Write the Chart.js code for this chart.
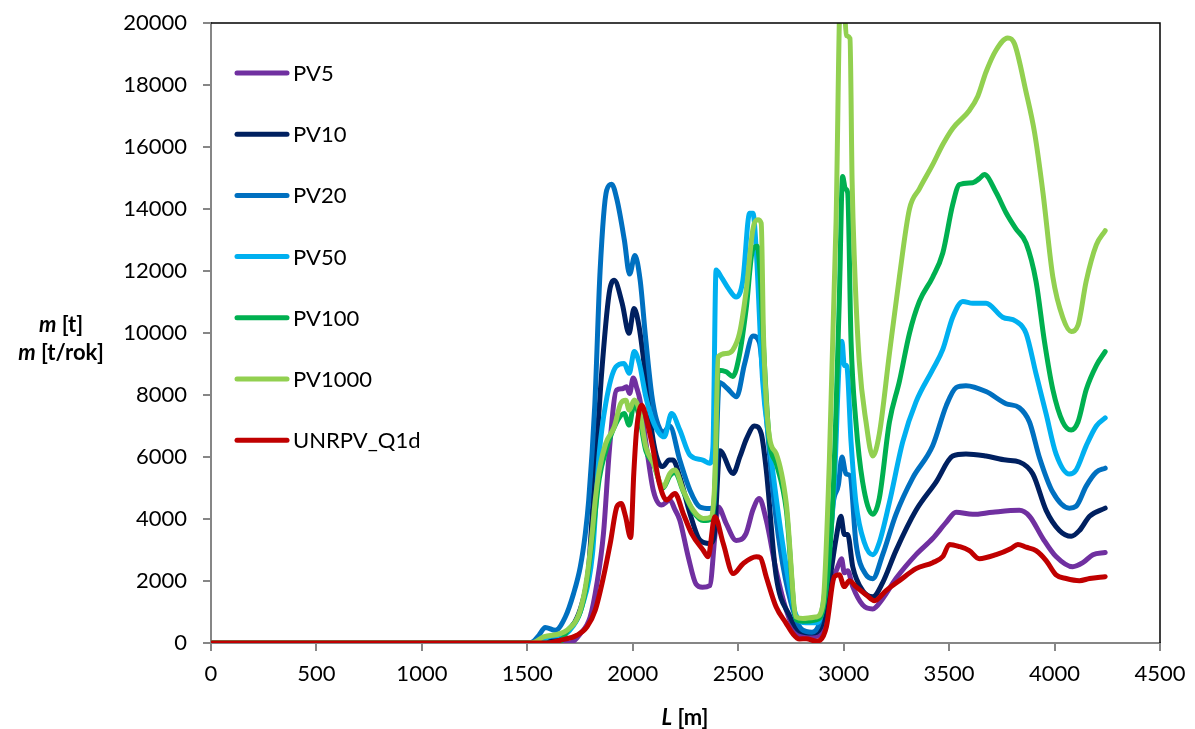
<!DOCTYPE html>
<html>
<head>
<meta charset="utf-8">
<script src="https://cdn.jsdelivr.net/npm/chart.js@4.4.1/dist/chart.umd.min.js"></script>
<style>
  body { margin: 0; background: #fff; }
  #wrap { position: relative; width: 1195px; height: 729px; font-family: Lato, "Open Sans", sans-serif; }
  .title { position: absolute; font-size: 22px; font-weight: bold; line-height: 26px; color: #000; text-align: center; white-space: nowrap; }
</style>
</head>
<body>
<div id="wrap">
  <canvas id="chart" width="1195" height="729"></canvas>
  <div class="title" style="left:1px; top:311px; width:120px;"><i>m</i> [t]</div>
  <div class="title" style="left:1px; top:339px; width:120px;"><i>m</i> [t/rok]</div>
  <div class="title" style="left:625px; top:704px; width:120px;"><i>L</i> [m]</div>
</div>
<script>
// ===== DATA (L in m, m in t) =====
const seriesNames = ["PV5", "PV10", "PV20", "PV50", "PV100", "PV1000", "UNRPV_Q1d"];
const seriesColors = ["#7030A0", "#002060", "#0070C0", "#00B0F0", "#00B050", "#92D050", "#C00000"];
const xTicks = [0, 500, 1000, 1500, 2000, 2500, 3000, 3500, 4000, 4500];
const yTicks = [0, 2000, 4000, 6000, 8000, 10000, 12000, 14000, 16000, 18000, 20000];

const pv5L = [0, 1700, 1751, 1798, 1830, 1861, 1890, 1923, 1950, 1970, 1985, 2002, 2020, 2034, 2065, 2097, 2136, 2176, 2200, 2223, 2263, 2300, 2330, 2365, 2390, 2405, 2443, 2490, 2537, 2570, 2600, 2633, 2680, 2728, 2775, 2839, 2885, 2932, 2972, 2990, 3003, 3019, 3043, 3090, 3138, 3185, 3248, 3343, 3422, 3486, 3533, 3612, 3707, 3833, 3881, 3945, 4007, 4086, 4134, 4182, 4240];
const pv5M = [0, 0, 300, 840, 1920, 3530, 6300, 8160, 8200, 8270, 8050, 8550, 8200, 7840, 6330, 4930, 4450, 4610, 4300, 3960, 2780, 1900, 1800, 1850, 3500, 4390, 3850, 3310, 3530, 4300, 4660, 3960, 2340, 1060, 360, 190, 260, 1690, 2460, 2720, 2270, 2330, 1820, 1230, 1100, 1430, 2080, 2850, 3370, 3890, 4220, 4150, 4220, 4280, 4090, 3370, 2790, 2460, 2590, 2850, 2920];

const pv10L = [0, 1560, 1610, 1680, 1759, 1791, 1812, 1850, 1888, 1912, 1950, 1982, 2006, 2030, 2061, 2094, 2118, 2141, 2173, 2190, 2223, 2271, 2318, 2365, 2385, 2413, 2476, 2508, 2540, 2577, 2609, 2633, 2679, 2742, 2790, 2853, 2892, 2932, 2964, 2987, 3003, 3019, 3043, 3090, 3138, 3185, 3248, 3343, 3438, 3517, 3580, 3675, 3770, 3833, 3897, 3960, 4023, 4079, 4118, 4166, 4240];
const pv10M = [0, 0, 100, 300, 1270, 2450, 4610, 8500, 11280, 11700, 10950, 9990, 10790, 10200, 8590, 6660, 5900, 5690, 5900, 5900, 5360, 4180, 3320, 3210, 3400, 6200, 5470, 6010, 6600, 7000, 6760, 5580, 2200, 900, 390, 320, 520, 1950, 3370, 4090, 3500, 3500, 2460, 1690, 1490, 1950, 2980, 4280, 5190, 6030, 6100, 6030, 5900, 5840, 5450, 4280, 3630, 3440, 3630, 4090, 4350];

const pv20L = [0, 1505, 1530, 1555, 1585, 1633, 1680, 1719, 1751, 1775, 1791, 1820, 1845, 1876, 1900, 1925, 1960, 1985, 2010, 2035, 2060, 2090, 2113, 2145, 2175, 2223, 2271, 2318, 2365, 2385, 2410, 2450, 2492, 2530, 2570, 2600, 2630, 2660, 2700, 2750, 2800, 2850, 2885, 2920, 2950, 2975, 2992, 3011, 3030, 3058, 3106, 3138, 3185, 3248, 3327, 3422, 3486, 3533, 3580, 3675, 3770, 3833, 3881, 3929, 3992, 4070, 4102, 4150, 4198, 4240];
const pv20M = [0, 0, 60, 250, 500, 410, 840, 1590, 2450, 3530, 4610, 7700, 12000, 14600, 14800, 14300, 13000, 11900, 12500, 11700, 9900, 8000, 7190, 6800, 7000, 5900, 4930, 4390, 4340, 4450, 8400, 8200, 7940, 9000, 9900, 9700, 7600, 5200, 3000, 1300, 450, 350, 650, 2000, 4500, 5100, 6000, 5450, 5400, 3240, 2200, 2075, 2850, 4150, 5320, 6360, 7650, 8240, 8300, 8110, 7720, 7590, 7130, 5970, 4860, 4350, 4410, 5060, 5510, 5640];

const pv50L = [0, 1550, 1600, 1650, 1700, 1760, 1809, 1841, 1872, 1920, 1959, 1983, 2007, 2031, 2062, 2094, 2126, 2149, 2184, 2223, 2271, 2332, 2365, 2380, 2395, 2419, 2459, 2490, 2522, 2554, 2570, 2584, 2616, 2647, 2710, 2774, 2821, 2877, 2916, 2956, 2979, 2992, 3003, 3014, 3035, 3058, 3098, 3138, 3169, 3217, 3280, 3343, 3422, 3470, 3517, 3565, 3612, 3675, 3754, 3817, 3865, 3912, 3960, 4007, 4070, 4102, 4150, 4198, 4240];
const pv50M = [0, 0, 200, 250, 400, 1200, 2880, 6110, 7730, 8910, 9020, 8700, 9400, 9020, 7940, 7190, 6760, 6650, 7400, 6870, 6060, 5900, 5800, 6300, 12030, 11810, 11380, 11160, 11700, 13860, 13860, 12840, 8430, 6490, 3240, 900, 650, 650, 1950, 5190, 9080, 9730, 8950, 8950, 6490, 4540, 3240, 2850, 3240, 4540, 6490, 7780, 8820, 9470, 10510, 11020, 10960, 10960, 10510, 10380, 9990, 8690, 7390, 6100, 5450, 5580, 6360, 7000, 7260];

const pv100L = [0, 1650, 1688, 1751, 1783, 1807, 1841, 1872, 1920, 1959, 1983, 2007, 2031, 2062, 2097, 2144, 2176, 2200, 2239, 2286, 2334, 2373, 2389, 2405, 2443, 2474, 2506, 2538, 2569, 2590, 2605, 2622, 2648, 2680, 2728, 2775, 2807, 2870, 2902, 2948, 2979, 2995, 3008, 3019, 3035, 3058, 3090, 3138, 3169, 3217, 3264, 3312, 3359, 3422, 3470, 3517, 3549, 3612, 3643, 3667, 3723, 3770, 3817, 3865, 3912, 3952, 3992, 4039, 4079, 4111, 4150, 4198, 4240];
const pv100M = [0, 0, 380, 1000, 2000, 3300, 5300, 6200, 7080, 7400, 7030, 7730, 7300, 6200, 5800, 5000, 5400, 5500, 4900, 4250, 3950, 4000, 5000, 8800, 8750, 8600, 9300, 10800, 12700, 12800, 11800, 9300, 6500, 5800, 4300, 750, 700, 750, 1100, 4540, 11000, 15050, 14650, 14530, 9730, 7130, 5190, 4150, 4670, 7130, 8430, 9990, 11020, 11800, 12580, 14140, 14790, 14850, 14980, 15110, 14530, 13880, 13360, 12900, 11670, 9730, 8170, 7130, 6870, 7130, 8170, 8950, 9400];

const pv1000L = [0, 1520, 1577, 1688, 1751, 1783, 1807, 1822, 1841, 1872, 1912, 1943, 1967, 1983, 2007, 2031, 2062, 2097, 2144, 2176, 2200, 2239, 2286, 2334, 2373, 2389, 2405, 2443, 2474, 2506, 2538, 2569, 2593, 2609, 2620, 2648, 2680, 2728, 2775, 2807, 2870, 2902, 2932, 2964, 2985, 3000, 3012, 3030, 3040, 3051, 3074, 3106, 3138, 3169, 3217, 3264, 3312, 3359, 3422, 3470, 3517, 3596, 3636, 3675, 3723, 3778, 3810, 3865, 3905, 3945, 3992, 4039, 4079, 4111, 4150, 4198, 4240];
const pv1000M = [0, 0, 195, 410, 1060, 2130, 3530, 4610, 5570, 6440, 6970, 7730, 7830, 7510, 7840, 7510, 6330, 5800, 5040, 5470, 5580, 4930, 4290, 4020, 4070, 5250, 9230, 9340, 9450, 9990, 11380, 13320, 13650, 13540, 9880, 6650, 6110, 4500, 840, 790, 840, 1270, 5840, 13600, 21000, 21000, 19600, 19500, 14900, 12320, 9080, 7130, 6030, 6744, 9340, 11800, 14000, 14650, 15430, 16080, 16600, 17180, 17640, 18420, 19130, 19520, 19330, 17770, 16470, 14530, 11800, 10500, 10050, 10250, 11670, 12840, 13300];

const unrL = [0, 1600, 1656, 1735, 1783, 1822, 1861, 1893, 1925, 1945, 1965, 1990, 2005, 2018, 2042, 2070, 2094, 2126, 2160, 2200, 2239, 2279, 2334, 2357, 2389, 2429, 2476, 2523, 2586, 2605, 2633, 2680, 2726, 2759, 2790, 2823, 2869, 2890, 2918, 2956, 2979, 3003, 3027, 3058, 3106, 3146, 3201, 3264, 3343, 3422, 3470, 3502, 3549, 3596, 3643, 3723, 3794, 3826, 3865, 3912, 3960, 4007, 4055, 4118, 4166, 4240];
const unrM = [0, 0, 90, 250, 520, 1060, 2130, 3210, 4400, 4500, 4100, 3400, 5500, 6870, 7670, 7080, 6330, 5150, 4610, 4820, 4180, 3530, 2990, 2780, 4070, 3210, 2240, 2560, 2780, 2750, 2130, 1160, 650, 300, 130, 140, 60, 100, 520, 2140, 2200, 1820, 2010, 1820, 1560, 1360, 1690, 2010, 2400, 2590, 2790, 3180, 3110, 2980, 2720, 2850, 3050, 3180, 3090, 2980, 2660, 2200, 2080, 2010, 2080, 2140];

const seriesL = [pv5L, pv10L, pv20L, pv50L, pv100L, pv1000L, unrL];
const seriesM = [pv5M, pv10M, pv20M, pv50M, pv100M, pv1000M, unrM];

const FONT = "Lato, 'Open Sans', sans-serif";

// ===== DATASETS =====
const datasets = seriesNames.map((name, i) => ({
  label: name,
  data: seriesL[i].map((x, k) => ({ x: x, y: seriesM[i][k] })),
  borderColor: seriesColors[i],
  backgroundColor: seriesColors[i],
  borderWidth: 5,
  pointRadius: 0,
  cubicInterpolationMode: "monotone",
  borderCapStyle: "round",
  borderJoinStyle: "round",
  order: seriesNames.length - i
}));

// top / right frame of the plot area
const framePlugin = {
  id: "frame",
  afterDraw(chart) {
    const { ctx, chartArea: a } = chart;
    ctx.save();
    ctx.strokeStyle = "#000";
    ctx.lineWidth = 1.5;
    ctx.beginPath();
    ctx.moveTo(a.left, a.top);
    ctx.lineTo(a.right, a.top);
    ctx.lineTo(a.right, a.bottom);
    ctx.stroke();
    ctx.restore();
  }
};

// legend inside the plot, top left
const insideLegend = {
  id: "insideLegend",
  afterDraw(chart) {
    const ctx = chart.ctx;
    ctx.save();
    ctx.font = "22px " + FONT;
    ctx.textBaseline = "middle";
    ctx.fillStyle = "#000";
    chart.data.datasets.forEach((ds, i) => {
      const y = 73 + i * 61.2;
      ctx.strokeStyle = ds.borderColor;
      ctx.lineWidth = 5;
      ctx.lineCap = "round";
      ctx.beginPath();
      ctx.moveTo(237, y);
      ctx.lineTo(287, y);
      ctx.stroke();
      ctx.fillText(ds.label, 293, y + 1);
    });
    ctx.restore();
  }
};

new Chart(document.getElementById("chart").getContext("2d"), {
  type: "line",
  data: { datasets },
  options: {
    responsive: false,
    animation: false,
    layout: { padding: { top: 23, right: 35, left: 0, bottom: 0 } },
    plugins: { legend: { display: false }, tooltip: { enabled: false } },
    scales: {
      x: {
        type: "linear",
        min: xTicks[0],
        max: xTicks[xTicks.length - 1],
        afterBuildTicks: s => { s.ticks = xTicks.map(v => ({ value: v })); },
        ticks: { color: "#000", font: { family: FONT, size: 22 }, padding: 10, maxRotation: 0, autoSkip: false, callback: v => String(v) },
        grid: { drawOnChartArea: false, tickLength: 8, color: "#868686", lineWidth: 2 },
        border: { color: "#868686", width: 2 },
        afterFit: s => { s.height = 86; s.paddingLeft = 0; s.paddingRight = 0; }
      },
      y: {
        min: yTicks[0],
        max: yTicks[yTicks.length - 1],
        afterBuildTicks: s => { s.ticks = yTicks.map(v => ({ value: v })); },
        ticks: { color: "#000", font: { family: FONT, size: 22 }, padding: 16, autoSkip: false, callback: v => String(v) },
        grid: { drawOnChartArea: false, tickLength: 8, color: "#868686", lineWidth: 2 },
        border: { color: "#868686", width: 2 },
        afterFit: s => { s.width = 211; s.paddingTop = 0; s.paddingBottom = 0; }
      }
    }
  },
  plugins: [framePlugin, insideLegend]
});
</script>
</body>
</html>
